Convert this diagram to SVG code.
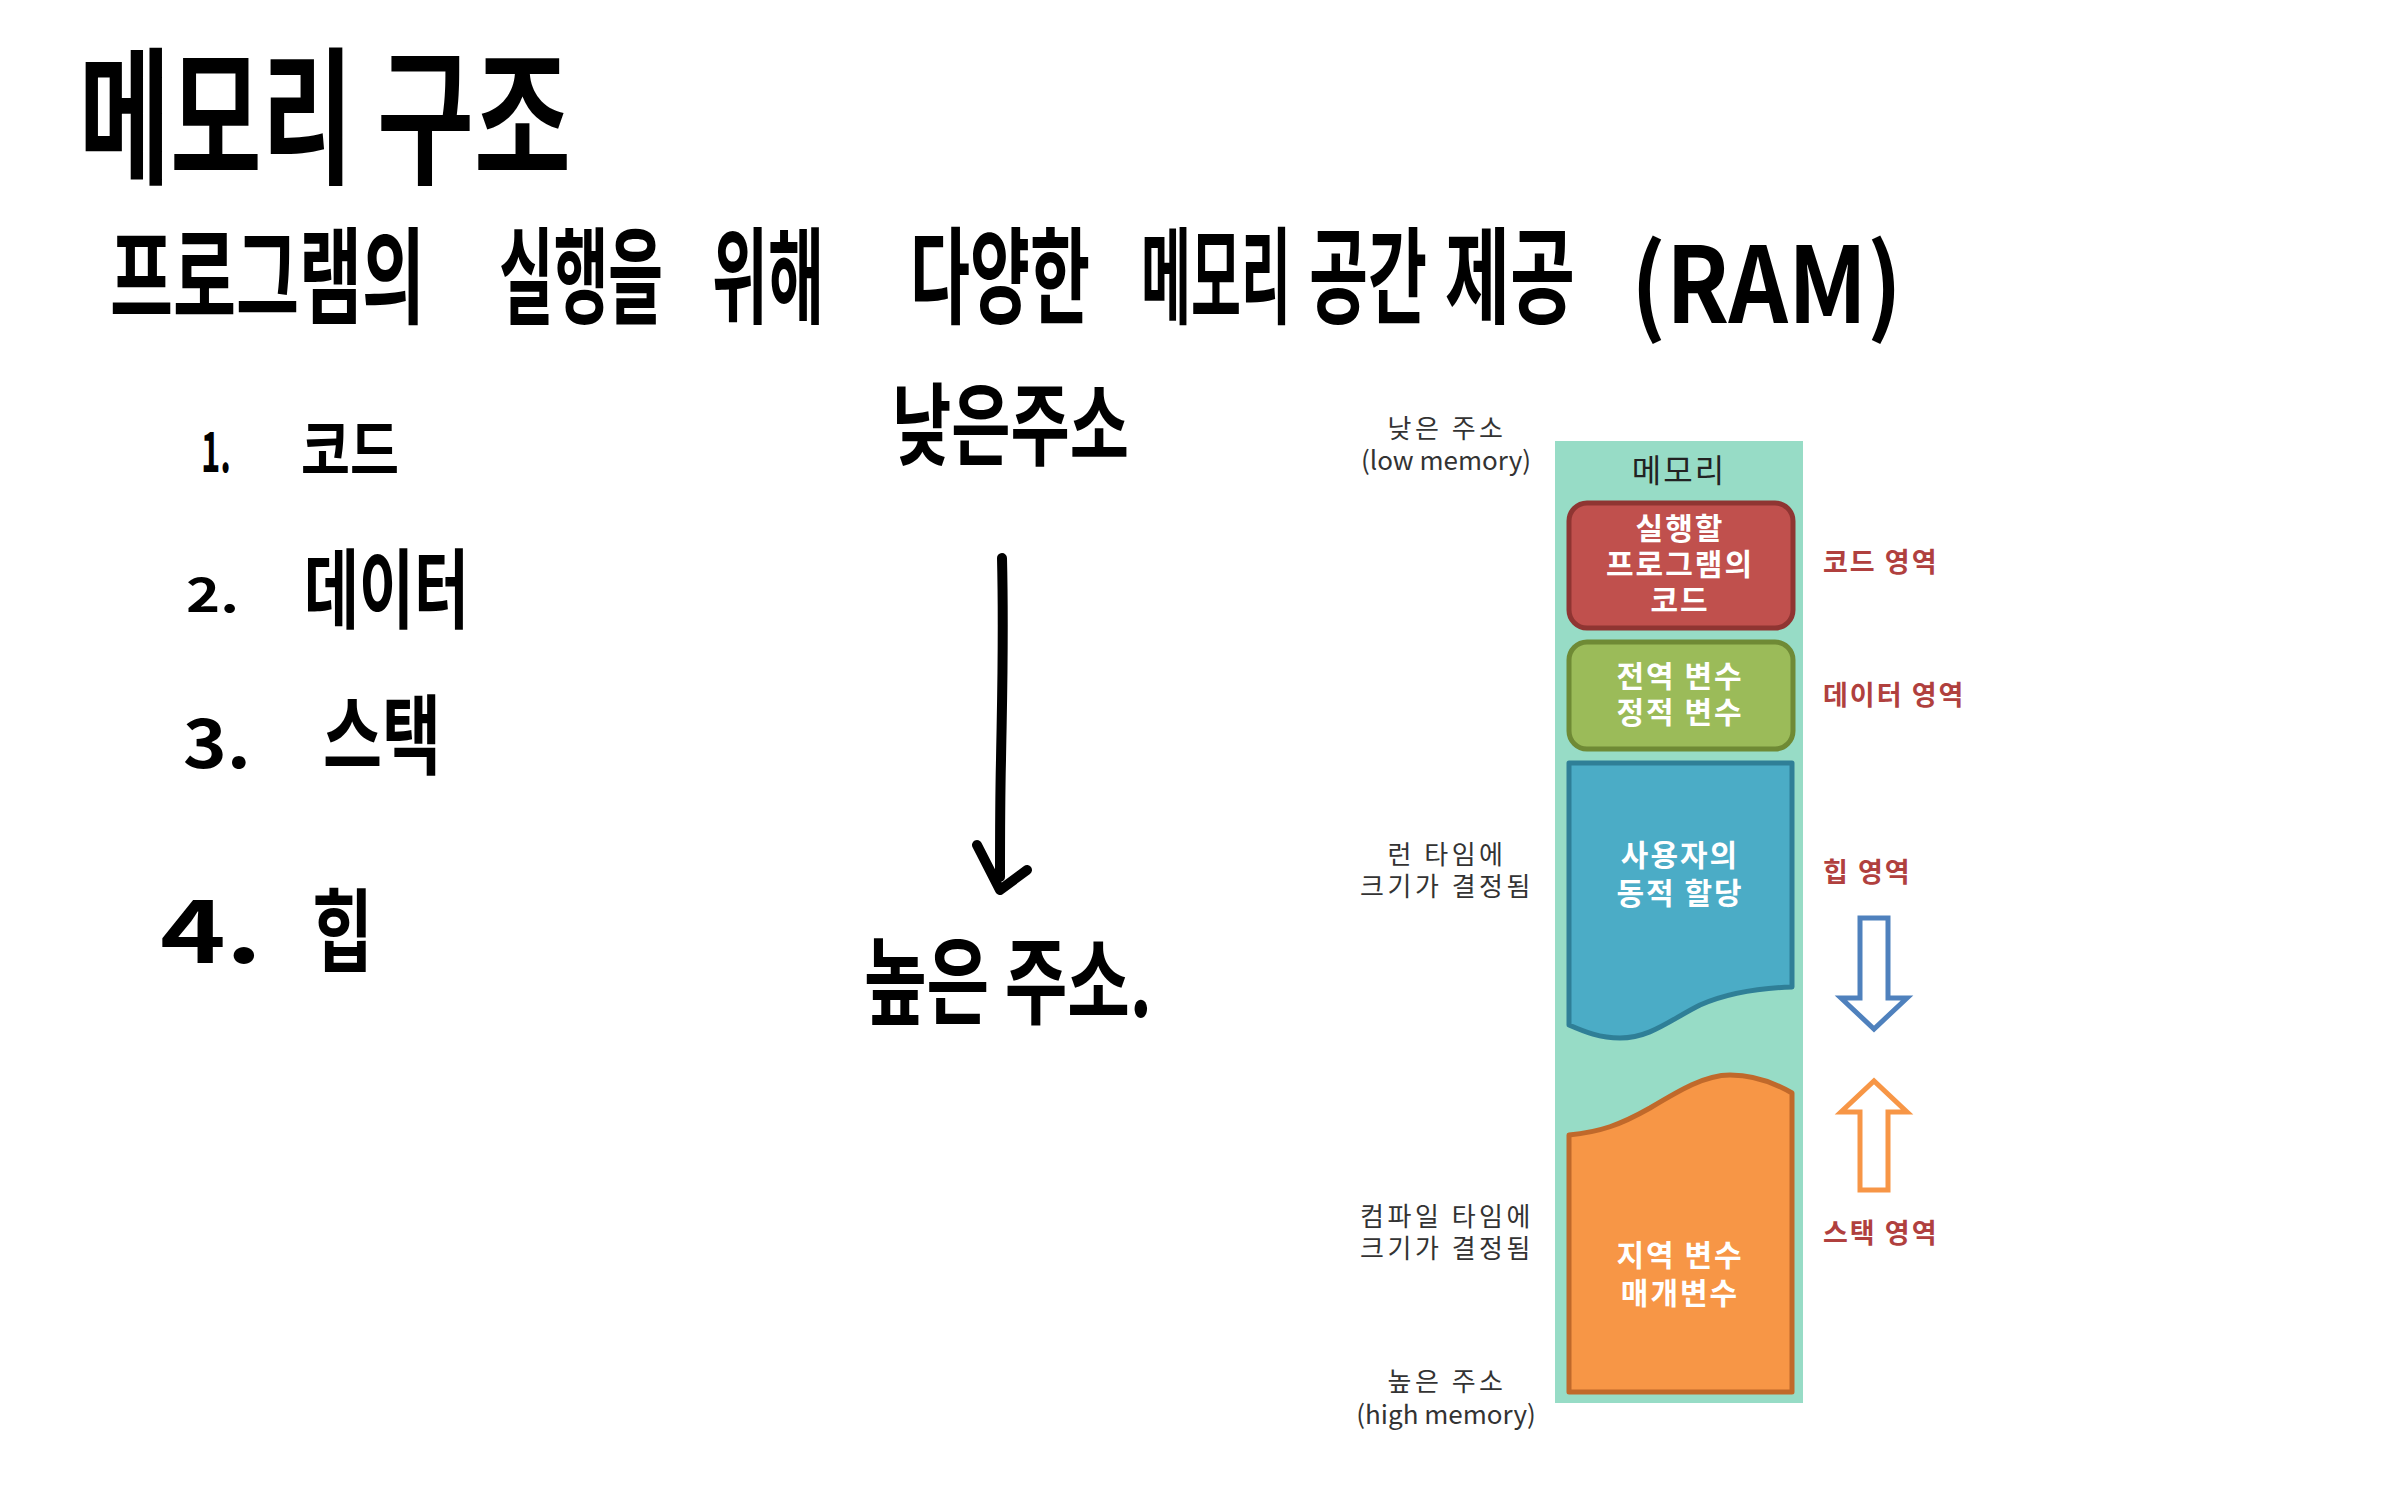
<svg xmlns="http://www.w3.org/2000/svg" width="2386" height="1491" viewBox="0 0 2386 1491">
<style>
.hw{font-family:"Noto Sans CJK KR","Noto Sans",sans-serif;font-weight:700;fill:#000}
.lbl{font-family:"Noto Sans CJK KR","Noto Sans",sans-serif;font-size:26px;fill:#333;text-anchor:middle}
.ko{letter-spacing:3.5px}
.box{font-family:"Noto Sans CJK KR","Noto Sans",sans-serif;font-size:30px;fill:#fff;text-anchor:middle;font-weight:600;letter-spacing:2px}
.reg{font-family:"Noto Sans CJK KR","Noto Sans",sans-serif;font-size:27px;fill:#b0403e;font-weight:700;letter-spacing:2px}
</style>
<rect width="2386" height="1491" fill="#fff"/>
<g id="handwriting">
<text class="hw" font-size="112" textLength="274" lengthAdjust="spacingAndGlyphs" transform="translate(79,172) scale(1,1.32)">메모리</text>
<text class="hw" font-size="112" textLength="194" lengthAdjust="spacingAndGlyphs" transform="translate(377,172) scale(1,1.32)">구조</text>
<g transform="translate(0,315)">
<text class="hw" font-size="75" textLength="315" lengthAdjust="spacingAndGlyphs" transform="translate(110,0) scale(1,1.4)">프로그램의</text>
<text class="hw" font-size="75" textLength="164" lengthAdjust="spacingAndGlyphs" transform="translate(499,0) scale(1,1.4)">실행을</text>
<text class="hw" font-size="75" textLength="112" lengthAdjust="spacingAndGlyphs" transform="translate(712,0) scale(1,1.4)">위해</text>
<text class="hw" font-size="75" textLength="180" lengthAdjust="spacingAndGlyphs" transform="translate(910,0) scale(1,1.4)">다양한</text>
<text class="hw" font-size="75" textLength="150" lengthAdjust="spacingAndGlyphs" transform="translate(1141,0) scale(1,1.4)">메모리</text>
<text class="hw" font-size="75" textLength="118" lengthAdjust="spacingAndGlyphs" transform="translate(1309,0) scale(1,1.4)">공간</text>
<text class="hw" font-size="75" textLength="130" lengthAdjust="spacingAndGlyphs" transform="translate(1445,0) scale(1,1.4)">제공</text>
<text class="hw" font-size="75" textLength="271" lengthAdjust="spacingAndGlyphs" transform="translate(1631,8) scale(1,1.4)">(RAM)</text>
</g>
<text class="hw" font-size="56" textLength="30" lengthAdjust="spacingAndGlyphs" x="201" y="472">1.</text>
<text class="hw" font-size="55" textLength="98" lengthAdjust="spacingAndGlyphs" transform="translate(301,474) scale(1,1.2)">코드</text>
<text class="hw" font-size="47" textLength="53" lengthAdjust="spacingAndGlyphs" x="186" y="612">2.</text>
<text class="hw" font-size="60" textLength="165" lengthAdjust="spacingAndGlyphs" transform="translate(304,622) scale(1,1.45)">데이터</text>
<text class="hw" font-size="68" textLength="68" lengthAdjust="spacingAndGlyphs" x="183" y="768">3.</text>
<text class="hw" font-size="60" textLength="118" lengthAdjust="spacingAndGlyphs" transform="translate(323,768) scale(1,1.45)">스택</text>
<text class="hw" font-size="88" textLength="102" lengthAdjust="spacingAndGlyphs" x="160" y="963">4.</text>
<text class="hw" font-size="60" textLength="61" lengthAdjust="spacingAndGlyphs" transform="translate(312,964) scale(1,1.5)">힙</text>
<text class="hw" font-size="62" textLength="237" lengthAdjust="spacingAndGlyphs" transform="translate(892,458) scale(1,1.45)">낮은주소</text>
<text class="hw" font-size="66" textLength="288" lengthAdjust="spacingAndGlyphs" transform="translate(864,1017) scale(1,1.45)">높은 주소.</text>
</g>
<g id="connectors" fill="none" stroke="#000" stroke-width="10" stroke-linecap="round" stroke-linejoin="round">
<path d="M1002,558 C1004,640 1002,700 1001,760 C1000,800 1000,840 1000,877"/>
<path d="M977,845 L1000,890 L1027,870"/>
</g>
<g id="memory">
<rect x="1555" y="441" width="248" height="962" fill="#97dcc6"/>
<text x="1679" y="482" font-family="Noto Sans CJK KR, sans-serif" font-size="32" fill="#222" text-anchor="middle" letter-spacing="2">메모리</text>
</g>
<g id="code">
<rect x="1569" y="503" width="224" height="125" rx="18" fill="#c0504d" stroke="#8f3532" stroke-width="5"/>
<text class="box" x="1680" y="539">실행할</text>
<text class="box" x="1680" y="575">프로그램의</text>
<text class="box" x="1680" y="611">코드</text>
</g>
<g id="data">
<rect x="1569" y="642" width="224" height="107" rx="18" fill="#9bbb59" stroke="#6f8a35" stroke-width="5"/>
<text class="box" x="1680" y="687">전역 변수</text>
<text class="box" x="1680" y="723">정적 변수</text>
</g>
<g id="heap">
<path d="M1569,763 L1792,763 L1792,987 C1760,988 1730,992 1700,1005 C1670,1020 1650,1038 1620,1038 C1600,1038 1585,1032 1569,1025 Z" fill="#4bacc6" stroke="#2f7f97" stroke-width="5" stroke-linejoin="round"/>
<text class="box" x="1680" y="866">사용자의</text>
<text class="box" x="1680" y="904">동적 할당</text>
</g>
<g id="stack">
<path d="M1569,1135 C1600,1132 1620,1125 1650,1108 C1680,1090 1705,1075 1730,1075 C1755,1075 1775,1083 1792,1093 L1792,1392 L1569,1392 Z" fill="#f79646" stroke="#c0692b" stroke-width="5" stroke-linejoin="round"/>
<text class="box" x="1680" y="1266">지역 변수</text>
<text class="box" x="1680" y="1304">매개변수</text>
</g>
<g id="left-labels">
<text class="lbl ko" x="1447" y="438">낮은 주소</text>
<text class="lbl" x="1446" y="470">(low memory)</text>
<text class="lbl ko" x="1447" y="864">런 타임에</text>
<text class="lbl ko" x="1447" y="896">크기가 결정됨</text>
<text class="lbl ko" x="1447" y="1226">컴파일 타임에</text>
<text class="lbl ko" x="1447" y="1258">크기가 결정됨</text>
<text class="lbl ko" x="1447" y="1391">높은 주소</text>
<text class="lbl" x="1446" y="1424">(high memory)</text>
</g>
<g id="right-labels">
<text class="reg" x="1823" y="572">코드 영역</text>
<text class="reg" x="1823" y="705">데이터 영역</text>
<text class="reg" x="1823" y="882">힙 영역</text>
<text class="reg" x="1823" y="1243">스택 영역</text>
</g>
<g id="heap-arrow">
<path d="M1860,918 L1888,918 L1888,998 L1907,998 L1874,1029 L1841,998 L1860,998 Z" fill="#fff" stroke="#4f81bd" stroke-width="5"/>
</g>
<g id="stack-arrow">
<path d="M1860,1190 L1888,1190 L1888,1112 L1907,1112 L1874,1081 L1841,1112 L1860,1112 Z" fill="#fff" stroke="#f79646" stroke-width="5"/>
</g>
</svg>
